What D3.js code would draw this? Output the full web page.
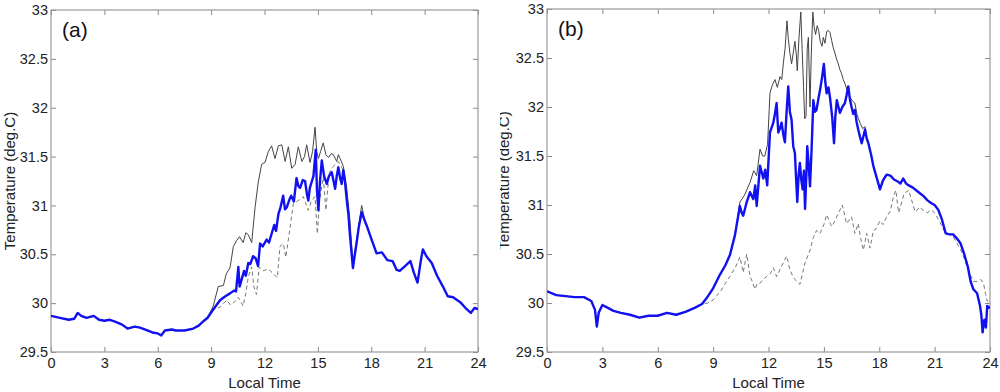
<!DOCTYPE html>
<html>
<head>
<meta charset="utf-8">
<script src="https://cdn.jsdelivr.net/npm/d3@7"></script>
<style>
  html, body { margin: 0; padding: 0; background: #fff; }
  svg { display: block; font-family: "Liberation Sans", Arial, sans-serif; }
  .tick text { fill: #222; font-size: 14.5px; }
</style>
</head>
<body>
<svg id="chart" width="1000" height="392"></svg>
<script>
// Ticks
const xTicks = [0, 3, 6, 9, 12, 15, 18, 21, 24];
const yTicks = [29.5, 30, 30.5, 31, 31.5, 32, 32.5, 33];

// Panel (a) - thick blue series [hour, degC]
const blueA = [
  [0, 29.87], [0.5, 29.85], [1, 29.83], [1.3, 29.84], [1.5, 29.90], [1.7, 29.87], [2, 29.85],
  [2.4, 29.87], [2.7, 29.83], [3, 29.82], [3.3, 29.83], [3.6, 29.81], [4, 29.78], [4.3, 29.74],
  [4.7, 29.76], [5, 29.75], [5.3, 29.73], [5.7, 29.70], [6, 29.69], [6.2, 29.67], [6.4, 29.72],
  [6.8, 29.73], [7, 29.72], [7.5, 29.72], [8, 29.74], [8.3, 29.77], [8.6, 29.82], [8.8, 29.85],
  [9.1, 29.93], [9.5, 30.03], [9.8, 30.07], [10.06, 30.10], [10.3, 30.13], [10.4, 30.12],
  [10.53, 30.37], [10.6, 30.17], [10.7, 30.23], [10.85, 30.33], [10.95, 30.28], [11.09, 30.41],
  [11.2, 30.40], [11.36, 30.48], [11.5, 30.46], [11.64, 30.38], [11.75, 30.61], [11.9, 30.58],
  [12.12, 30.65], [12.25, 30.62], [12.4, 30.71], [12.55, 30.80], [12.65, 30.74], [12.78, 30.91],
  [12.9, 30.98], [13.05, 31.10], [13.15, 30.96], [13.25, 30.98], [13.4, 31.06], [13.5, 31.10],
  [13.65, 31.04], [13.8, 31.28], [13.9, 31.20], [14.0, 31.18], [14.15, 31.26], [14.28, 31.25],
  [14.38, 31.12], [14.46, 31.05], [14.55, 31.18], [14.65, 31.24], [14.75, 31.30], [14.88, 31.57],
  [14.95, 31.15], [15.03, 30.95], [15.12, 31.25], [15.22, 31.46], [15.35, 31.30], [15.5, 31.22],
  [15.62, 31.30], [15.78, 31.34], [15.88, 31.25], [15.97, 31.17], [16.06, 31.30], [16.15, 31.39],
  [16.25, 31.28], [16.34, 31.22], [16.43, 31.36], [16.52, 31.25], [16.62, 31.06], [16.72, 30.90],
  [16.8, 30.70], [16.9, 30.50], [16.97, 30.36], [17.08, 30.50], [17.18, 30.62], [17.3, 30.78],
  [17.46, 30.93], [17.6, 30.86], [17.75, 30.79], [18, 30.66], [18.3, 30.51], [18.6, 30.52],
  [18.9, 30.44], [19.2, 30.43], [19.43, 30.34], [19.6, 30.33], [19.9, 30.38], [20.2, 30.43],
  [20.4, 30.31], [20.6, 30.21], [20.8, 30.45], [20.9, 30.55], [21.1, 30.48], [21.4, 30.41],
  [21.7, 30.28], [22, 30.18], [22.3, 30.07], [22.6, 30.06], [23, 30.01], [23.3, 29.95],
  [23.6, 29.90], [23.8, 29.95], [24, 29.94]
];
// Panel (a) - thin black series, part that departs from blue
const blackAMid = [
  [8.8, 29.85], [9.12, 29.97], [9.4, 30.17], [9.69, 30.18], [9.85, 30.30], [10.06, 30.36],
  [10.25, 30.58], [10.43, 30.64], [10.6, 30.68], [10.8, 30.62], [10.95, 30.72], [11.09, 30.70],
  [11.28, 30.62], [11.47, 30.98], [11.65, 31.24], [11.84, 31.42], [12.03, 31.44], [12.21, 31.55],
  [12.4, 31.61], [12.59, 31.48], [12.78, 31.61], [12.97, 31.62], [13.16, 31.45], [13.34, 31.60],
  [13.53, 31.38], [13.72, 31.42], [13.9, 31.60], [14.1, 31.45], [14.25, 31.50], [14.37, 31.62],
  [14.56, 31.44], [14.7, 31.55], [14.84, 31.80], [14.94, 31.55], [15.03, 31.48], [15.15, 31.55],
  [15.3, 31.64], [15.45, 31.52], [15.6, 31.49], [15.75, 31.53], [15.87, 31.52], [16.06, 31.45],
  [16.15, 31.52], [16.25, 31.48], [16.43, 31.40], [16.62, 31.18], [16.8, 30.85], [16.97, 30.40],
  [17.18, 30.65], [17.46, 31.00], [17.6, 30.88]
];
// Panel (a) - dashed series, part that departs from blue
const dashAMid = [
  [9.1, 29.93], [9.5, 29.96], [9.88, 30.03], [10.1, 29.98], [10.25, 30.00], [10.53, 30.06],
  [10.8, 29.97], [10.95, 30.10], [11.09, 30.27], [11.28, 30.37], [11.4, 30.17], [11.55, 30.09],
  [11.7, 30.37], [11.92, 30.33], [12.21, 30.35], [12.5, 30.30], [12.72, 30.26], [12.87, 30.58],
  [13.06, 30.61], [13.2, 30.47], [13.44, 30.78], [13.62, 31.02], [13.9, 31.05], [14.18, 31.09],
  [14.46, 30.95], [14.65, 31.05], [14.84, 31.09], [14.97, 30.71], [15.1, 31.05], [15.3, 31.29],
  [15.45, 30.95], [15.63, 31.33], [15.87, 31.40], [16.15, 31.45], [16.43, 31.36], [16.62, 31.12],
  [16.8, 30.75], [16.97, 30.38]
];

// Panel (b) - thick blue series
const blueB = [
  [0, 30.12], [0.5, 30.08], [1, 30.07], [1.5, 30.06], [2, 30.06], [2.4, 30.02], [2.6, 29.93],
  [2.7, 29.76], [2.8, 29.90], [3.0, 29.98], [3.3, 29.95], [3.6, 29.92], [4, 29.90], [4.5, 29.88],
  [5, 29.85], [5.5, 29.87], [6, 29.87], [6.5, 29.90], [7, 29.88], [7.5, 29.91], [8, 29.95],
  [8.4, 29.99], [8.65, 30.05], [9.0, 30.15], [9.37, 30.29], [9.65, 30.38], [9.91, 30.49],
  [10.18, 30.69], [10.45, 30.99], [10.55, 30.92], [10.63, 30.89], [10.82, 31.03], [11.0, 31.13],
  [11.18, 31.06], [11.28, 31.20], [11.36, 30.99], [11.54, 31.40], [11.72, 31.27], [11.82, 31.36],
  [11.93, 31.20], [12.08, 31.74], [12.26, 31.84], [12.35, 31.93], [12.44, 32.04], [12.53, 31.74],
  [12.62, 31.78], [12.71, 31.84], [12.8, 31.72], [12.89, 31.64], [12.98, 31.95], [13.07, 32.21],
  [13.16, 31.95], [13.25, 31.87], [13.34, 31.60], [13.43, 31.53], [13.5, 31.25], [13.56, 31.03],
  [13.63, 31.30], [13.7, 31.43], [13.78, 31.25], [13.85, 31.16], [13.92, 31.35], [13.98, 30.96],
  [14.05, 31.30], [14.1, 31.60], [14.18, 31.40], [14.25, 31.19], [14.34, 31.60], [14.43, 32.07],
  [14.52, 31.95], [14.6, 31.97], [14.7, 32.08], [14.79, 32.17], [14.9, 32.30], [15.0, 32.44],
  [15.08, 32.25], [15.15, 32.14], [15.25, 32.20], [15.33, 32.10], [15.45, 31.90], [15.55, 31.63],
  [15.62, 31.90], [15.7, 32.07], [15.79, 32.00], [15.87, 31.94], [16.0, 32.00], [16.14, 32.04],
  [16.23, 32.12], [16.32, 32.21], [16.41, 32.08], [16.5, 32.00], [16.59, 31.93], [16.68, 31.97],
  [16.77, 31.85], [16.86, 31.77], [16.95, 31.70], [17.05, 31.63], [17.14, 31.70], [17.23, 31.77],
  [17.32, 31.68], [17.41, 31.63], [17.55, 31.52], [17.68, 31.40], [17.86, 31.28], [18.04, 31.16],
  [18.2, 31.25], [18.4, 31.31], [18.6, 31.30], [18.8, 31.26], [19.0, 31.24], [19.15, 31.22],
  [19.3, 31.27], [19.45, 31.22], [19.6, 31.20], [19.8, 31.18], [20.0, 31.15], [20.2, 31.12],
  [20.4, 31.09], [20.6, 31.05], [20.8, 31.02], [21.0, 31.00], [21.2, 30.95], [21.4, 30.85],
  [21.6, 30.71], [21.8, 30.70], [22.0, 30.70], [22.2, 30.66], [22.4, 30.61], [22.6, 30.50],
  [22.8, 30.37], [22.95, 30.22], [23.1, 30.14], [23.3, 30.10], [23.45, 29.98], [23.53, 29.88],
  [23.6, 29.70], [23.65, 29.78], [23.7, 29.83], [23.78, 29.75], [23.85, 29.97], [24, 29.95]
];
// Panel (b) - thin black series, part that departs from blue
const blackBMid = [
  [10.18, 30.69], [10.45, 31.03], [10.7, 31.10], [11.0, 31.23], [11.2, 31.35], [11.36, 31.30],
  [11.54, 31.57], [11.68, 31.50], [11.8, 31.50], [11.95, 31.62], [12.08, 32.14], [12.2, 32.22],
  [12.35, 32.28], [12.48, 32.20], [12.62, 32.31], [12.72, 32.28], [12.8, 32.44], [12.9, 32.60],
  [13.0, 32.88], [13.07, 32.70], [13.16, 32.55], [13.25, 32.44], [13.34, 32.55], [13.43, 32.67],
  [13.5, 32.55], [13.56, 32.37], [13.65, 32.70], [13.75, 32.97], [13.82, 32.60], [13.9, 32.20],
  [13.96, 31.88], [14.03, 31.90], [14.1, 32.60], [14.16, 32.71], [14.25, 32.00], [14.32, 32.55],
  [14.4, 32.97], [14.47, 32.82], [14.55, 32.74], [14.64, 32.83], [14.72, 32.78], [14.8, 32.67],
  [14.9, 32.62], [14.97, 32.71], [15.06, 32.65], [15.15, 32.77], [15.25, 32.78], [15.33, 32.76],
  [15.42, 32.68], [15.5, 32.61], [15.6, 32.55], [15.7, 32.48], [15.78, 32.44], [15.87, 32.38],
  [15.96, 32.34], [16.05, 32.28], [16.14, 32.24], [16.25, 32.18], [16.41, 32.10], [16.55, 32.06],
  [16.68, 32.04], [16.8, 31.92], [16.95, 31.84], [17.1, 31.78], [17.23, 31.80]
];
// Panel (b) - dashed series, part that departs from blue
const dashBMid = [
  [8.4, 29.99], [8.7, 30.00], [9.0, 30.03], [9.4, 30.12], [9.9, 30.27], [10.2, 30.36],
  [10.45, 30.47], [10.63, 30.31], [10.82, 30.50], [11.0, 30.27], [11.12, 30.22], [11.27, 30.14],
  [11.4, 30.20], [11.54, 30.20], [11.7, 30.24], [11.9, 30.27], [12.1, 30.30], [12.26, 30.36],
  [12.44, 30.27], [12.62, 30.34], [12.8, 30.41], [12.98, 30.48], [13.16, 30.34], [13.3, 30.28],
  [13.43, 30.24], [13.7, 30.19], [13.98, 30.41], [14.25, 30.54], [14.43, 30.67], [14.6, 30.74],
  [14.79, 30.71], [15.0, 30.80], [15.15, 30.90], [15.42, 30.78], [15.55, 30.82], [15.7, 30.88],
  [16.0, 31.00], [16.23, 30.81], [16.5, 30.88], [16.68, 30.71], [16.86, 30.81], [17.0, 30.65],
  [17.14, 30.54], [17.32, 30.71], [17.5, 30.56], [17.68, 30.74], [17.85, 30.76], [18.04, 30.84],
  [18.2, 30.80], [18.4, 30.88], [18.6, 30.94], [18.76, 31.08], [18.9, 31.15], [19.05, 30.92],
  [19.2, 31.02], [19.35, 31.12], [19.6, 31.15], [19.8, 31.02], [19.95, 30.93], [20.2, 30.98],
  [20.4, 30.94], [20.6, 30.92], [20.8, 30.95], [21.0, 30.92], [21.3, 30.82], [21.5, 30.74],
  [21.8, 30.70], [22.0, 30.68], [22.3, 30.58], [22.5, 30.51], [22.7, 30.40], [22.9, 30.30],
  [23.1, 30.22], [23.3, 30.22], [23.5, 30.24], [23.65, 30.20], [23.75, 30.10], [23.85, 30.02],
  [24, 30.00]
];

// join a departing segment onto the blue curve where they overlap
function splice(base, mid) {
  const t0 = mid[0][0], t1 = mid[mid.length - 1][0];
  return [...base.filter(d => d[0] < t0), ...mid, ...base.filter(d => d[0] > t1)];
}

const panels = [
  { label: '(a)', clipX: 0, left: 51, right: 478, top: 10, bottom: 352, ylabX: 10,
    blue: blueA, black: splice(blueA, blackAMid), dash: splice(blueA, dashAMid) },
  { label: '(b)', clipX: 500, left: 547, right: 990, top: 9, bottom: 352, ylabX: 504,
    blue: blueB, black: splice(blueB, blackBMid), dash: splice(blueB, dashBMid) }
];

const svg = d3.select('#chart');
const defs = svg.append('defs');

panels.forEach((p, i) => {
  defs.append('clipPath').attr('id', 'panel' + i)
    .append('rect').attr('x', p.clipX).attr('y', 0).attr('width', 500).attr('height', 392);
  defs.append('clipPath').attr('id', 'plot' + i)
    .append('rect').attr('x', p.left).attr('y', p.top)
    .attr('width', p.right - p.left).attr('height', p.bottom - p.top);

  const g = svg.append('g').attr('clip-path', `url(#panel${i})`);
  const x = d3.scaleLinear().domain([0, 24]).range([p.left, p.right]);
  const y = d3.scaleLinear().domain([29.5, 33]).range([p.bottom, p.top]);

  // axes, MATLAB style: inward ticks on all four sides
  const styleAxis = sel => {
    sel.select('.domain').remove();
    sel.selectAll('.tick line').attr('stroke', '#888');
  };
  g.append('g').attr('transform', `translate(0,${p.bottom})`)
    .call(d3.axisBottom(x).tickValues(xTicks).tickSize(-5).tickPadding(6).tickFormat(d3.format('d')))
    .call(styleAxis);
  g.append('g').attr('transform', `translate(0,${p.top})`)
    .call(d3.axisTop(x).tickValues(xTicks).tickSize(-5).tickFormat(''))
    .call(styleAxis);
  g.append('g').attr('transform', `translate(${p.left},0)`)
    .call(d3.axisLeft(y).tickValues(yTicks).tickSize(-5).tickPadding(3).tickFormat(d => String(d)))
    .call(styleAxis);
  g.append('g').attr('transform', `translate(${p.right},0)`)
    .call(d3.axisRight(y).tickValues(yTicks).tickSize(-5).tickFormat(''))
    .call(styleAxis);
  g.selectAll('.tick text').attr('font-family', null).attr('font-size', null);

  g.append('rect')
    .attr('x', p.left).attr('y', p.top)
    .attr('width', p.right - p.left).attr('height', p.bottom - p.top)
    .attr('fill', 'none').attr('stroke', '#999').attr('stroke-width', 1.2);

  const line = d3.line().x(d => x(d[0])).y(d => y(d[1]));
  const plot = g.append('g').attr('clip-path', `url(#plot${i})`);
  plot.append('path').datum(p.dash).attr('d', line)
    .attr('fill', 'none').attr('stroke', '#777').attr('stroke-width', 1)
    .attr('stroke-dasharray', '4,3');
  plot.append('path').datum(p.black).attr('d', line)
    .attr('fill', 'none').attr('stroke', '#444').attr('stroke-width', 1);
  plot.append('path').datum(p.blue).attr('d', line)
    .attr('fill', 'none').attr('stroke', '#1010f0').attr('stroke-width', 2.4)
    .attr('stroke-linejoin', 'round');

  g.append('text')
    .attr('x', p.left + 11).attr('y', p.top + 27)
    .attr('font-size', 21).attr('fill', '#111')
    .text(p.label);

  g.append('text')
    .attr('x', (p.left + p.right) / 2).attr('y', 388)
    .attr('text-anchor', 'middle').attr('font-size', 15).attr('fill', '#222')
    .text('Local Time');

  g.append('text')
    .attr('transform', `translate(${p.ylabX},${(p.top + p.bottom) / 2}) rotate(-90)`)
    .attr('text-anchor', 'middle').attr('dy', '0.35em')
    .attr('font-size', 15).attr('fill', '#222')
    .text('Temperature (deg.C)');
});
</script>
</body>
</html>
